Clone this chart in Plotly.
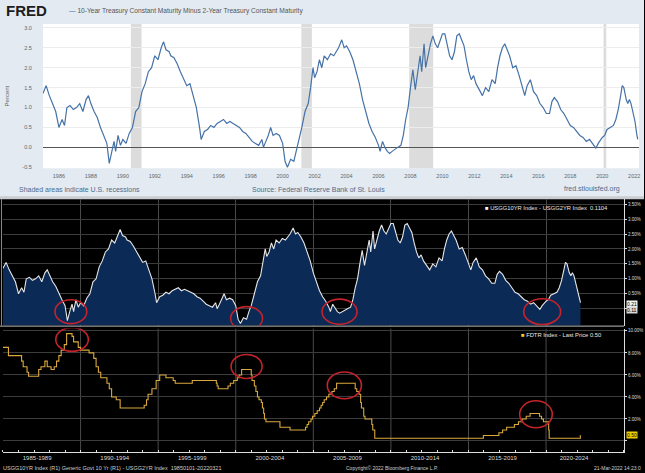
import plotly.graph_objects as go

W, H = 645, 473

# ---------------- data ----------------
# 10-Year minus 2-Year Treasury spread (percent), decimal years
SPREAD_T = [1985.0, 1985.2, 1985.4, 1985.6, 1985.8, 1986.0, 1986.2, 1986.35, 1986.5, 1986.7, 1986.9,
            1987.1, 1987.3, 1987.5, 1987.7, 1987.85, 1988.0, 1988.2, 1988.4, 1988.6, 1988.8, 1989.0,
            1989.15, 1989.3, 1989.45, 1989.55, 1989.7, 1989.85, 1990.0, 1990.2, 1990.4, 1990.6, 1990.8,
            1991.0, 1991.2, 1991.4, 1991.6, 1991.8, 1992.0, 1992.2, 1992.4, 1992.55, 1992.7, 1992.9,
            1993.0, 1993.2, 1993.4, 1993.6, 1993.8, 1994.0, 1994.2, 1994.4, 1994.6, 1994.8, 1994.9,
            1995.1, 1995.3, 1995.5, 1995.7, 1995.9, 1996.1, 1996.3, 1996.5, 1996.7, 1996.9, 1997.1,
            1997.3, 1997.5, 1997.7, 1997.9, 1998.1, 1998.3, 1998.5, 1998.7, 1998.8, 1998.95, 1999.1,
            1999.25, 1999.4, 1999.6, 1999.8, 2000.0, 2000.15, 2000.3, 2000.5, 2000.7, 2000.85, 2001.0,
            2001.2, 2001.4, 2001.6, 2001.75, 2001.9, 2002.0, 2002.15, 2002.3, 2002.45, 2002.6, 2002.8,
            2003.0, 2003.2, 2003.35, 2003.5, 2003.7, 2003.85, 2004.0, 2004.2, 2004.4, 2004.6, 2004.8,
            2005.0, 2005.2, 2005.4, 2005.6, 2005.8, 2006.0, 2006.1, 2006.25, 2006.4, 2006.55, 2006.7,
            2006.85, 2007.0, 2007.2, 2007.4, 2007.55, 2007.7, 2007.85, 2008.0, 2008.15, 2008.3, 2008.45,
            2008.6, 2008.7, 2008.85, 2008.95, 2009.1, 2009.25, 2009.4, 2009.55, 2009.7, 2009.85, 2010.0,
            2010.15, 2010.3, 2010.45, 2010.6, 2010.75, 2010.9, 2011.05, 2011.2, 2011.35, 2011.5, 2011.65,
            2011.8, 2011.95, 2012.1, 2012.3, 2012.5, 2012.7, 2012.9, 2013.1, 2013.3, 2013.45, 2013.6,
            2013.75, 2013.9, 2014.0, 2014.2, 2014.4, 2014.6, 2014.8, 2015.0, 2015.15, 2015.3, 2015.5,
            2015.7, 2015.9, 2016.1, 2016.3, 2016.5, 2016.7, 2016.85, 2017.0, 2017.2, 2017.4, 2017.6,
            2017.8, 2018.0, 2018.2, 2018.4, 2018.6, 2018.8, 2019.0, 2019.2, 2019.4, 2019.6, 2019.75,
            2019.9, 2020.0, 2020.15, 2020.3, 2020.5, 2020.7, 2020.85, 2021.0, 2021.15, 2021.25, 2021.35,
            2021.5, 2021.6, 2021.7, 2021.8, 2021.95, 2022.05, 2022.15, 2022.22]
SPREAD_V = [1.35, 1.55, 1.3, 1.1, 0.9, 0.5, 0.7, 0.55, 1.0, 1.05, 0.95,
            1.0, 1.1, 0.9, 1.2, 1.3, 1.1, 0.9, 0.75, 0.5, 0.3, 0.1,
            -0.4, -0.1, 0.15, -0.1, 0.3, 0.05, 0.2, 0.1, 0.35, 0.5, 0.9,
            1.0, 1.4, 1.6, 1.9, 2.0, 2.3, 2.2, 2.5, 2.65, 2.45, 2.4,
            2.3, 2.25, 2.1, 1.9, 1.7, 1.55, 1.6, 1.3, 1.0, 0.5, 0.2,
            0.4, 0.45, 0.55, 0.5, 0.6, 0.65, 0.7, 0.6, 0.65, 0.6, 0.55,
            0.5, 0.4, 0.35, 0.25, 0.15, 0.1, 0.05, 0.2, 0.0, 0.15, 0.3,
            0.5, 0.3, 0.35, 0.3, 0.1, -0.35, -0.5, -0.3, -0.35, -0.1, 0.1,
            0.5, 0.9, 1.1, 1.5, 2.0, 1.75, 1.9, 2.2, 2.0, 2.3, 2.2,
            2.35, 2.3, 2.4, 2.5, 2.7, 2.5, 2.55, 2.4, 2.2, 1.9, 1.6,
            1.2, 0.9, 0.6, 0.4, 0.25, 0.05, -0.1, 0.15, 0.0, -0.1, -0.15,
            -0.1, -0.05, 0.0, 0.05, 0.3, 0.7, 1.0, 1.5, 1.95, 1.45, 1.9,
            2.3, 1.9, 2.6, 2.0, 2.3, 2.6, 2.8, 2.6, 2.5, 2.65, 2.85,
            2.85, 2.6, 2.3, 2.2, 2.4, 2.8, 2.85, 2.7, 2.55, 2.2, 1.9,
            1.7, 1.8, 1.6, 1.45, 1.3, 1.5, 1.4, 1.7, 1.6, 2.0, 2.3,
            2.5, 2.6, 2.5, 2.3, 2.0, 2.05, 1.8, 1.5, 1.3, 1.55, 1.7,
            1.4, 1.3, 1.1, 1.0, 0.85, 0.85, 1.15, 1.25, 1.15, 0.95, 0.85,
            0.7, 0.55, 0.5, 0.4, 0.3, 0.25, 0.15, 0.2, 0.1, -0.02, 0.1,
            0.2, 0.25, 0.3, 0.45, 0.5, 0.55, 0.7, 0.95, 1.3, 1.55, 1.5,
            1.2, 1.1, 1.2, 1.1, 0.8, 0.65, 0.35, 0.2]

# Fed funds target rate (FDTR), percent, step points
FDTR_T = [1985.0, 1985.35, 1986.2, 1986.3, 1986.55, 1986.65, 1987.3, 1987.45, 1987.7, 1987.85,
          1988.1, 1988.3, 1988.45, 1988.6, 1988.75, 1988.95, 1989.1, 1989.45, 1989.55, 1989.85,
          1990.0, 1990.55, 1990.85, 1991.0, 1991.15, 1991.3, 1991.7, 1991.85, 1992.0, 1992.3,
          1992.55, 1994.1, 1994.25, 1994.35, 1994.6, 1994.87, 1995.1, 1995.5, 1995.97, 1996.1,
          1997.2, 1998.75, 1998.8, 1998.87, 1999.5, 1999.65, 1999.87, 2000.1, 2000.22, 2000.38,
          2001.0, 2001.05, 2001.2, 2001.3, 2001.4, 2001.5, 2001.65, 2001.72, 2001.8, 2001.85,
          2001.95, 2002.85, 2003.5, 2004.5, 2004.6, 2004.7, 2004.85, 2004.95, 2005.1, 2005.25,
          2005.4, 2005.5, 2005.6, 2005.7, 2005.85, 2006.0, 2006.2, 2006.35, 2006.5, 2007.7,
          2007.8, 2007.95, 2008.05, 2008.1, 2008.25, 2008.33, 2008.77, 2008.83, 2008.96, 2015.96,
          2016.96, 2017.2, 2017.46, 2017.96, 2018.22, 2018.46, 2018.72, 2018.97, 2019.58, 2019.71,
          2019.83, 2020.17, 2020.2, 2022.21, 2022.22]
FDTR_V = [8.5, 7.75, 7.25, 6.75, 6.25, 5.875, 6.5, 6.75, 7.25, 6.75,
          6.5, 6.75, 7.25, 7.75, 8.25, 8.75, 9.75, 9.5, 9.0, 8.5,
          8.25, 8.0, 7.5, 6.75, 6.25, 5.75, 5.25, 4.75, 4.0, 3.75,
          3.0, 3.25, 3.75, 4.25, 4.75, 5.5, 6.0, 5.75, 5.5, 5.25,
          5.5, 5.25, 5.0, 4.75, 5.0, 5.25, 5.5, 5.75, 6.0, 6.5,
          6.0, 5.5, 5.0, 4.5, 4.0, 3.75, 3.5, 3.0, 2.5, 2.0,
          1.75, 1.25, 1.0, 1.25, 1.5, 1.75, 2.0, 2.25, 2.5, 2.75,
          3.0, 3.25, 3.5, 3.75, 4.0, 4.25, 4.5, 4.75, 5.25, 4.75,
          4.5, 4.25, 3.5, 3.0, 2.25, 2.0, 1.5, 1.0, 0.25, 0.5,
          0.75, 1.0, 1.25, 1.5, 1.75, 2.0, 2.25, 2.5, 2.25, 2.0,
          1.75, 1.0, 0.25, 0.5, 0.5]

REC_START = [1990.5, 2001.17, 2007.92, 2020.08]
REC_END = [1991.17, 2001.83, 2009.42, 2020.25]

FRED_XTICKS = list(range(1986, 2023, 2))
FRED_XLABELS = [str(y) for y in FRED_XTICKS]
FRED_YTICKS = [-0.5, 0.0, 0.5, 1.0, 1.5, 2.0, 2.5, 3.0]
FRED_YLABELS = ["-0.5", "0.0", "0.5", "1.0", "1.5", "2.0", "2.5", "3.0"]

BBG_BOUNDS = [1990, 1995, 2000, 2005, 2010, 2015, 2020]
BBG_PERIOD_POS = [1987.2, 1992.2, 1997.2, 2002.2, 2007.2, 2012.2, 2017.2, 2021.8]
BBG_PERIOD_LABELS = ["1985-1989", "1990-1994", "1995-1999", "2000-2004",
                     "2005-2009", "2010-2014", "2015-2019", "2020-2024"]
SPREAD_AX_TICKS = [0.0, 0.5, 1.0, 1.5, 2.0, 2.5, 3.0, 3.5]
SPREAD_AX_LABELS = ["", "0.50%", "1.00%", "1.50%", "2.00%", "2.50%", "3.00%", "3.50%"]
FDTR_AX_TICKS = [0, 2, 4, 6, 8, 10]
FDTR_AX_LABELS = ["", "2.00%", "4.00%", "6.00%", "8.00%", "10.00%"]
TAG_LABELS = ["0.21", "0.11", "0.50"]

# ---------------- layout helpers ----------------
def px(x):
    return x / W

def py(y):
    return 1 - y / H

FONT = "Liberation Sans, Arial, sans-serif"
RIGHT = 625
X2_RANGE = [1985.0, 1985.0 + (RIGHT - 3) / 15.54]
Y2_RANGE = [-0.567, 3.667]
Y3_RANGE = [-1.01, 10.21]

fig = go.Figure()

# FRED line
fig.add_trace(go.Scatter(x=SPREAD_T, y=SPREAD_V, mode="lines",
                         line=dict(color="#4572a7", width=1.2),
                         xaxis="x", yaxis="y", showlegend=False, hoverinfo="skip"))

# Bloomberg upper: area to bottom of panel
fig.add_trace(go.Scatter(x=SPREAD_T, y=[Y2_RANGE[0]] * len(SPREAD_T), mode="lines",
                         line=dict(width=0, color="rgba(0,0,0,0)"),
                         xaxis="x2", yaxis="y2", showlegend=False, hoverinfo="skip"))
fig.add_trace(go.Scatter(x=SPREAD_T, y=SPREAD_V, mode="lines", fill="tonexty",
                         fillcolor="#0c2a56",
                         line=dict(color="#e6e6e6", width=1.1),
                         xaxis="x2", yaxis="y2", showlegend=False, hoverinfo="skip"))

# Bloomberg lower: fed funds target
fig.add_trace(go.Scatter(x=FDTR_T, y=FDTR_V, mode="lines", line_shape="hv",
                         line=dict(color="#d9a93f", width=1.1),
                         xaxis="x3", yaxis="y3", showlegend=False, hoverinfo="skip"))

shapes = []
# FRED background
shapes.append(dict(type="rect", xref="paper", yref="paper", x0=0, x1=1, y0=py(198), y1=1,
                   fillcolor="#e3eaf1", line=dict(width=0), layer="below"))
shapes.append(dict(type="rect", xref="paper", yref="paper", x0=0, x1=1, y0=py(200), y1=py(197),
                   fillcolor="#c9ccd0", line=dict(width=0), layer="below"))
shapes.append(dict(type="rect", xref="x domain", yref="y domain", x0=0, x1=1, y0=0, y1=1,
                   fillcolor="#ffffff", line=dict(width=0), layer="below"))
for s, e in zip(REC_START, REC_END):
    shapes.append(dict(type="rect", xref="x", yref="y domain", x0=s, x1=e, y0=0, y1=1,
                       fillcolor="#dcdcdc", line=dict(width=0), layer="below"))
# Bloomberg lower vertical gridlines
for b in BBG_BOUNDS:
    shapes.append(dict(type="line", xref="x3", yref="y3 domain", x0=b, x1=b, y0=0, y1=1,
                       line=dict(color="#4a4a4a", width=1), layer="below"))
# separator line between Bloomberg panels and left border
shapes.append(dict(type="line", xref="paper", yref="paper", x0=0, x1=px(RIGHT), y0=py(327.5), y1=py(327.5),
                   line=dict(color="#bdbdbd", width=1)))
shapes.append(dict(type="line", xref="paper", yref="paper", x0=px(1.5), x1=px(1.5), y0=py(327), y1=py(200),
                   line=dict(color="#8a8a8a", width=1)))

# red circles
RED = "#c4232b"
for (x0, x1, y0, y1) in [(1988.35, 1990.4, -0.5, 0.3), (1999.67, 2001.73, -0.73, 0.07),
                         (2005.56, 2007.82, -0.52, 0.32), (2018.56, 2020.94, -0.53, 0.33)]:
    shapes.append(dict(type="circle", xref="x2", yref="y2", x0=x0, x1=x1, y0=y0, y1=y1,
                       line=dict(color=RED, width=1.6)))
for (x0, x1, y0, y1) in [(1988.4, 1990.5, 8.14, 10.3), (1999.7, 2001.7, 5.68, 7.86),
                         (2005.9, 2008.1, 3.83, 6.27), (2018.3, 2020.4, 1.2, 3.65)]:
    shapes.append(dict(type="circle", xref="x3", yref="y3", x0=x0, x1=x1, y0=y0, y1=y1,
                       line=dict(color=RED, width=1.6)))

ann = []
# FRED header
ann.append(dict(text="<b>FRED</b>", x=px(4), y=py(11), xref="paper", yref="paper",
                xanchor="left", yanchor="middle", showarrow=False,
                font=dict(family="Liberation Sans, Arial", size=15, color="#1d1d1d")))
ann.append(dict(text="<span style='color:#4572a7'>\u2014</span> 10-Year Treasury Constant Maturity Minus 2-Year Treasury Constant Maturity",
                x=px(67), y=py(11), xref="paper", yref="paper", xanchor="left", yanchor="middle",
                showarrow=False, font=dict(family=FONT, size=6.6, color="#555555")))
ann.append(dict(text="Shaded areas indicate U.S. recessions", x=px(17), y=py(190),
                xref="paper", yref="paper", xanchor="left", yanchor="middle", showarrow=False,
                font=dict(family=FONT, size=7, color="#4b6b8c")))
ann.append(dict(text="Source: Federal Reserve Bank of St. Louis", x=px(250), y=py(190),
                xref="paper", yref="paper", xanchor="left", yanchor="middle", showarrow=False,
                font=dict(family=FONT, size=7, color="#4b6b8c")))
ann.append(dict(text="fred.stlouisfed.org", x=px(623), y=py(190),
                xref="paper", yref="paper", xanchor="right", yanchor="middle", showarrow=False,
                font=dict(family=FONT, size=7, color="#4b6b8c")))

# Bloomberg legends
ann.append(dict(text="<span style='color:#ffffff'>\u25A0</span> USGG10YR Index - USGG2YR Index  0.1104",
                x=px(484), y=py(209), xref="paper", yref="paper", xanchor="left", yanchor="middle",
                showarrow=False, font=dict(family=FONT, size=5.8, color="#e8e8e8")))
ann.append(dict(text="<span style='color:#f2d21b'>\u25A0</span> FDTR Index - Last Price 0.50",
                x=px(520), y=py(336), xref="paper", yref="paper", xanchor="left", yanchor="middle",
                showarrow=False, font=dict(family=FONT, size=5.8, color="#e8e8e8")))
# last value tags
ann.append(dict(text=TAG_LABELS[0], x=px(RIGHT + 2), y=0.17, xref="paper", yref="y2", xanchor="left",
                yanchor="middle", showarrow=False, bgcolor="#f2f2f2", borderpad=0,
                font=dict(family=FONT, size=5, color="#000000")))
ann.append(dict(text=TAG_LABELS[1], x=px(RIGHT + 2), y=-0.03, xref="paper", yref="y2", xanchor="left",
                yanchor="middle", showarrow=False, bgcolor="#d8d8d8", borderpad=0,
                font=dict(family=FONT, size=5, color="#000000")))
ann.append(dict(text=TAG_LABELS[2], x=px(RIGHT + 2), y=FDTR_V[-1], xref="paper", yref="y3", xanchor="left",
                yanchor="middle", showarrow=False, bgcolor="#f0d000", borderpad=0,
                font=dict(family=FONT, size=5, color="#000000")))
# footnotes
ann.append(dict(text="USGG10YR Index (R1) Generic Govt 10 Yr (R1) - USGG2YR Index  19850101-20220321",
                x=px(1), y=py(470), xref="paper", yref="paper", xanchor="left", yanchor="middle",
                showarrow=False, font=dict(family=FONT, size=5.5, color="#cfcfcf")))
ann.append(dict(text="Copyright\u00a9 2022 Bloomberg Finance L.P.",
                x=px(345), y=py(470), xref="paper", yref="paper", xanchor="left", yanchor="middle",
                showarrow=False, font=dict(family=FONT, size=5, color="#cfcfcf")))
ann.append(dict(text="21-Mar-2022 14:23:0",
                x=px(644), y=py(470), xref="paper", yref="paper", xanchor="right", yanchor="middle",
                showarrow=False, font=dict(family=FONT, size=5, color="#cfcfcf")))

fig.update_layout(
    width=W, height=H, autosize=False,
    margin=dict(l=0, r=0, t=0, b=0),
    paper_bgcolor="#000000", plot_bgcolor="rgba(0,0,0,0)",
    font=dict(family=FONT),
    shapes=shapes, annotations=ann,
    xaxis=dict(domain=[px(43), px(640)], range=[1985.0, 2022.3], anchor="y",
               tickmode="array", tickvals=FRED_XTICKS, ticktext=FRED_XLABELS,
               tickfont=dict(size=5.5, color="#666666"), ticks="outside", ticklen=2,
               tickcolor="rgba(0,0,0,0)", showgrid=False, zeroline=False, showline=False),
    yaxis=dict(domain=[py(169), py(24)], range=[-0.525, 3.1], anchor="x",
               tickmode="array", tickvals=FRED_YTICKS, ticktext=FRED_YLABELS,
               tickfont=dict(size=5.5, color="#666666"), ticks="outside", ticklen=9,
               tickcolor="rgba(0,0,0,0)", showgrid=True, gridcolor="#ececec", gridwidth=1,
               zeroline=True, zerolinecolor="#555555", zerolinewidth=1, showline=False,
               title=dict(text="Percent", font=dict(size=6, color="#666666"), standoff=12)),
    xaxis2=dict(domain=[px(3), px(RIGHT)], range=X2_RANGE, anchor="y2",
                tickmode="array", tickvals=BBG_BOUNDS, showticklabels=False, ticks="",
                showgrid=True, gridcolor="#4a4a4a", gridwidth=1, zeroline=False, showline=False),
    yaxis2=dict(domain=[py(327), py(200)], range=Y2_RANGE, anchor="x2", side="right",
                tickmode="array", tickvals=SPREAD_AX_TICKS, ticktext=SPREAD_AX_LABELS,
                tickfont=dict(size=4.5, color="#dddddd"), ticks="outside", ticklen=2,
                tickcolor="#dddddd", showgrid=True, gridcolor="#3c3c3c", gridwidth=1,
                zeroline=False, showline=True, linecolor="#dddddd", linewidth=1),
    xaxis3=dict(domain=[px(3), px(RIGHT)], range=X2_RANGE, anchor="y3",
                tickmode="array", tickvals=BBG_PERIOD_POS, ticktext=BBG_PERIOD_LABELS,
                tickfont=dict(size=6, color="#dddddd"), ticks="", showgrid=False,
                zeroline=False, showline=True, linecolor="#dddddd", linewidth=1.2,
                minor=dict(tickmode="linear", tick0=1985, dtick=1, ticks="inside",
                           ticklen=2, tickcolor="#dddddd", showgrid=False)),
    yaxis3=dict(domain=[py(454), py(330)], range=Y3_RANGE, anchor="x3", side="right",
                tickmode="array", tickvals=FDTR_AX_TICKS, ticktext=FDTR_AX_LABELS,
                tickfont=dict(size=4.5, color="#dddddd"), ticks="outside", ticklen=2,
                tickcolor="#dddddd", showgrid=True, gridcolor="#3c3c3c", gridwidth=1,
                zeroline=False, showline=True, linecolor="#dddddd", linewidth=1),
)

fig.write_html("out.html", config={"displayModeBar": False},
               post_script="document.body.style.margin='0';document.body.style.overflow='hidden';")
